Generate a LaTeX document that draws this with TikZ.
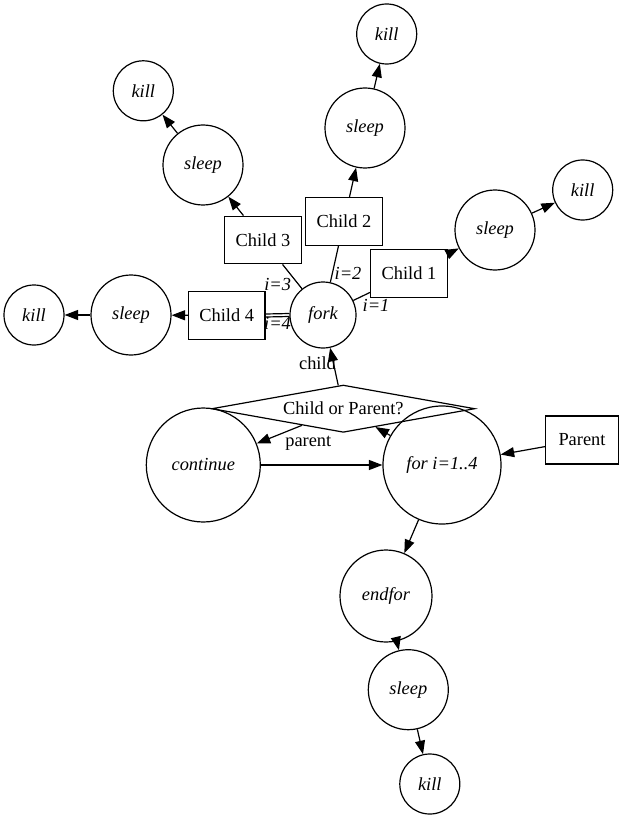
\documentclass[tikz,border=0pt]{standalone}
\usepackage{fontspec}
\setmainfont{Liberation Serif}
\usetikzlibrary{arrows.meta,shapes.geometric}

\tikzset{
  every node/.style={font=\fontsize{18.4}{21}\selectfont, text=black},
  circ/.style={draw, circle, line width=1.2pt, inner sep=0pt, font=\fontsize{18.4}{21}\selectfont\itshape},
  killnode/.style={circ, minimum size=60pt},
  sleepnode/.style={circ, minimum size=80pt},
  childbox/.style={draw, rectangle, line width=1.2pt, minimum width=76.6pt, minimum height=47.7pt, inner sep=0pt},
  decision/.style={draw, diamond, line width=1.2pt, minimum width=263pt, minimum height=47.3pt, inner sep=0pt, shape aspect=5.5},
  link/.style={line width=1.2pt},
  flow/.style={line width=1.2pt, -{Triangle[length=13.5pt,width=10pt]}},
  idx/.style={font=\fontsize{18.4}{21}\selectfont\itshape, inner sep=0pt},
  lbl/.style={inner sep=0pt}
}

\begin{document}
\begin{tikzpicture}[x=1pt,y=-1pt]
\useasboundingbox (0,0) rectangle (624,818);

% central fork and its four children
\node[circ, minimum size=66pt] (fork) at (323,315) {fork};
\node[childbox] (c1) at (409,273.7) {Child 1};
\node[childbox] (c2) at (344,221.3) {Child 2};
\node[childbox] (c3) at (263,240) {Child 3};
\node[childbox] (c4) at (226.7,315.5) {Child 4};

% sleep / kill chains of the children
\node[sleepnode] (s1) at (495,230) {sleep};
\node[killnode]  (k1) at (582.7,190) {kill};
\node[sleepnode] (s2) at (365,128) {sleep};
\node[killnode]  (k2) at (386.7,34) {kill};
\node[sleepnode] (s3) at (203,165) {sleep};
\node[killnode]  (k3) at (143.3,90.8) {kill};
\node[sleepnode] (s4) at (131,315) {sleep};
\node[killnode]  (k4) at (34,315) {kill};

% parent loop
\node[decision] (dec) at (343.3,408.7) {Child or Parent?};
\node[circ, minimum size=114pt] (cont) at (203.3,465) {continue};
\node[circ, minimum size=118pt] (loop) at (442,465) {for i=1..4};
\node[draw, rectangle, line width=1.2pt, minimum width=72.6pt, minimum height=48pt, inner sep=0pt] (par) at (582,440) {Parent};
\node[circ, minimum size=92pt] (endf) at (386,596) {endfor};
\node[sleepnode] (s5) at (408.3,689.7) {sleep};
\node[killnode]  (k5) at (429.8,784) {kill};

% fork to children
\draw[link] (fork) -- (c1);
\draw[link] (fork) -- (c2);
\draw[link] (fork) -- (c3);
\draw[link] ([yshift=-1.5pt]fork.west) -- ([yshift=-1.5pt]c4.east);
\draw[link] ([yshift=1.5pt]fork.west) -- ([yshift=1.5pt]c4.east);

\node[idx] (l1) at (376,305) {i=1};
\node[idx] (l2) at (348,273) {i=2};
\node[idx] (l3) at (277.7,284) {i=3};
\node[idx] (l4) at (277.5,323.5) {i=4};

% children chains
\draw[flow] (c1) -- (s1);
\draw[flow] (s1) -- (k1);
\draw[flow] (c2) -- (s2);
\draw[flow] (s2) -- (k2);
\draw[flow] (c3) -- (s3);
\draw[flow] (s3) -- (k3);
\draw[flow] (c4) -- (s4);
\draw[flow] (s4) -- (k4);

% decision and loop
\draw[flow] (dec) -- (fork);
\node[lbl] (lchild) at (317.5,363.5) {child};
\draw[flow] (dec) -- (cont);
\node[lbl] (lparent) at (308.3,443) {parent};
\draw[flow] (cont) -- (loop);
\draw[flow] (loop) -- (dec);
\draw[flow] (par) -- (loop);
\draw[flow] (loop) -- (endf);
\draw[flow] (endf) -- (s5);
\draw[flow] (s5) -- (k5);
\end{tikzpicture}
\end{document}
